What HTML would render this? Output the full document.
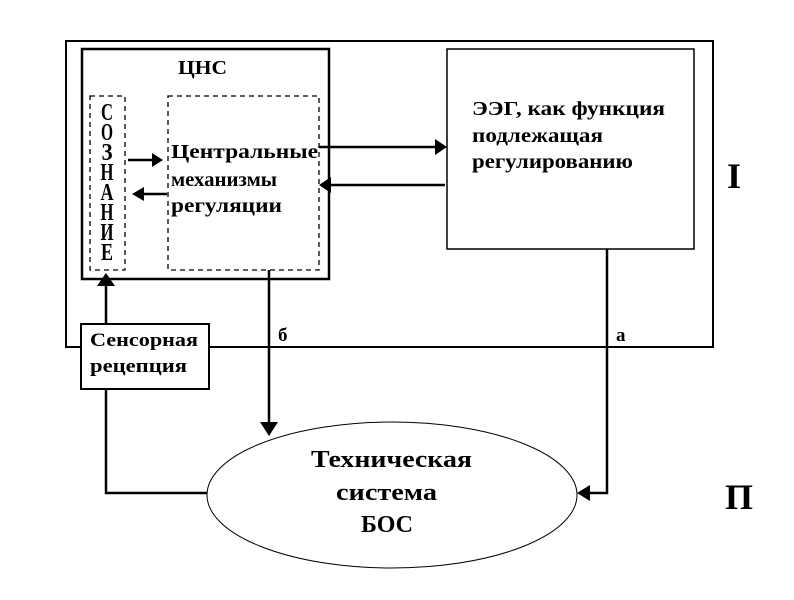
<!DOCTYPE html>
<html><head><meta charset="utf-8"><style>
body{margin:0;background:#fff;}
svg text{font-family:"Liberation Serif",serif;font-weight:bold;fill:#000;}
</style></head><body>
<svg width="794" height="595" viewBox="0 0 794 595" xmlns="http://www.w3.org/2000/svg">
<rect width="794" height="595" fill="#fff"/>
<rect x="66" y="41" width="647" height="306" fill="none" stroke="#000" stroke-width="2"/>
<rect x="82" y="49" width="247" height="230" fill="#fff" stroke="#000" stroke-width="2.5"/>
<text x="178" y="74" font-size="20" textLength="49" lengthAdjust="spacingAndGlyphs">ЦНС</text>
<rect x="90" y="96" width="35" height="174" fill="none" stroke="#000" stroke-width="1.3" stroke-dasharray="5,4"/>
<rect x="168" y="96" width="151" height="174" fill="none" stroke="#000" stroke-width="1.3" stroke-dasharray="5,4"/>
<g font-size="24" text-anchor="middle" font-weight="normal">
<text x="107" y="120" textLength="12" lengthAdjust="spacingAndGlyphs">С</text>
<text x="107" y="140" textLength="12" lengthAdjust="spacingAndGlyphs">О</text>
<text x="107" y="160" textLength="11" lengthAdjust="spacingAndGlyphs">З</text>
<text x="107" y="180" textLength="13" lengthAdjust="spacingAndGlyphs">Н</text>
<text x="107" y="200" textLength="13" lengthAdjust="spacingAndGlyphs">А</text>
<text x="107" y="220" textLength="13" lengthAdjust="spacingAndGlyphs">Н</text>
<text x="107" y="240" textLength="13" lengthAdjust="spacingAndGlyphs">И</text>
<text x="107" y="260" textLength="12" lengthAdjust="spacingAndGlyphs">Е</text>
</g>
<g font-size="20">
<text x="171" y="158" textLength="147" lengthAdjust="spacingAndGlyphs">Центральные</text>
<text x="171" y="186" textLength="106" lengthAdjust="spacingAndGlyphs">механизмы</text>
<text x="171" y="212" textLength="111" lengthAdjust="spacingAndGlyphs">регуляции</text>
</g>
<line x1="128" y1="160" x2="152" y2="160" stroke="#000" stroke-width="2.5"/>
<polygon points="163,160 152,153 152,167" fill="#000"/>
<line x1="144" y1="194" x2="167" y2="194" stroke="#000" stroke-width="2.5"/>
<polygon points="132,194 144,187 144,201" fill="#000"/>
<rect x="447" y="49" width="247" height="200" fill="#fff" stroke="#000" stroke-width="1.5"/>
<g font-size="20">
<text x="472" y="115" textLength="193" lengthAdjust="spacingAndGlyphs">ЭЭГ, как функция</text>
<text x="472" y="142" textLength="131" lengthAdjust="spacingAndGlyphs">подлежащая</text>
<text x="472" y="168" textLength="161" lengthAdjust="spacingAndGlyphs">регулированию</text>
</g>
<line x1="319" y1="147" x2="435" y2="147" stroke="#000" stroke-width="2.5"/>
<polygon points="447,147 435,139 435,155" fill="#000"/>
<line x1="331" y1="185" x2="445" y2="185" stroke="#000" stroke-width="2.5"/>
<polygon points="319,185 331,177 331,193" fill="#000"/>
<text x="734" y="188" font-size="36" text-anchor="middle">I</text>
<text x="739" y="509" font-size="36" text-anchor="middle">П</text>
<rect x="81" y="324" width="128" height="65" fill="#fff" stroke="#000" stroke-width="2"/>
<g font-size="19">
<text x="90" y="346" textLength="108" lengthAdjust="spacingAndGlyphs">Сенсорная</text>
<text x="90" y="372" textLength="97" lengthAdjust="spacingAndGlyphs">рецепция</text>
</g>
<line x1="106" y1="324" x2="106" y2="286" stroke="#000" stroke-width="2.5"/>
<polygon points="106,273 97,286 115,286" fill="#000"/>
<polyline points="106,389 106,493 207,493" fill="none" stroke="#000" stroke-width="2.5"/>
<line x1="269" y1="270" x2="269" y2="422" stroke="#000" stroke-width="2.5"/>
<polygon points="269,436 260,422 278,422" fill="#000"/>
<text x="278" y="341" font-size="19">б</text>
<polyline points="607,249 607,493 590,493" fill="none" stroke="#000" stroke-width="2.5"/>
<polygon points="577,493 590,485 590,501" fill="#000"/>
<text x="616" y="341" font-size="19">а</text>
<ellipse cx="392" cy="495" rx="185" ry="73" fill="#fff" stroke="#000" stroke-width="1"/>
<g font-size="24">
<text x="311" y="467" textLength="161" lengthAdjust="spacingAndGlyphs">Техническая</text>
<text x="336" y="500" textLength="101" lengthAdjust="spacingAndGlyphs">система</text>
<text x="361" y="532" textLength="52" lengthAdjust="spacingAndGlyphs">БОС</text>
</g>
</svg>
</body></html>
